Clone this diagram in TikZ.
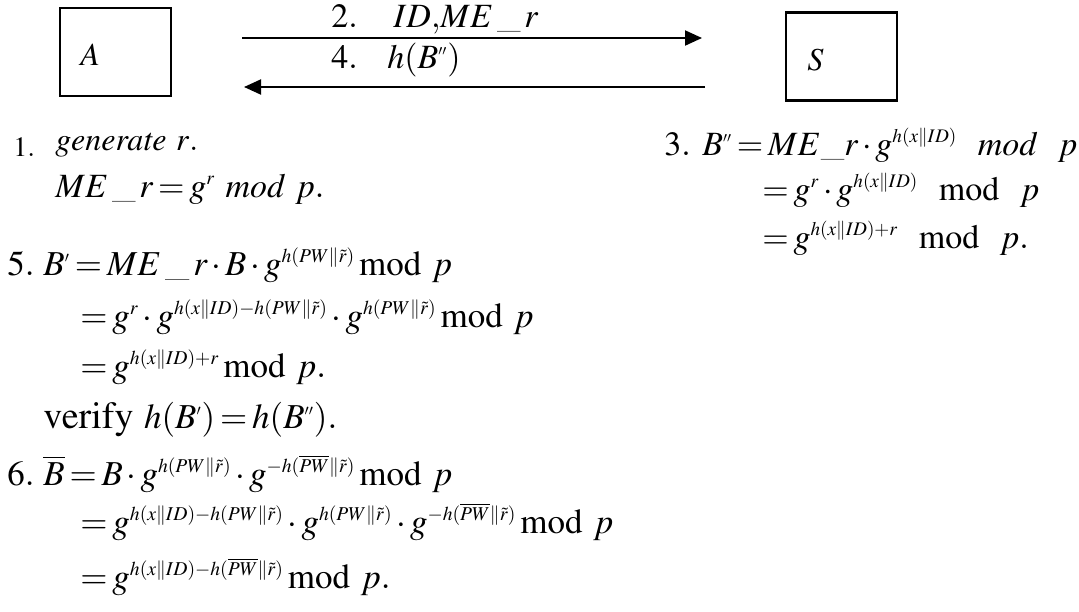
\documentclass[tikz,border=0pt]{standalone}
\usepackage{amsmath}
\usepackage{mathptmx}
\usetikzlibrary{arrows.meta, positioning}
\DeclareMathSizes{19}{19}{10.6}{8}
\DeclareMathSizes{17.5}{17.5}{9.8}{7.5}
\DeclareMathSizes{17}{17}{9.6}{7.2}
\DeclareMathSizes{16}{16}{9.2}{7}
\DeclareMathSizes{14}{14}{8.5}{6}
\thickmuskip=2.5mu
\medmuskip=2mu
\newcommand{\sgl}{^{\scriptscriptstyle\prime}}
\newcommand{\dbl}{^{\scriptscriptstyle\prime\prime}}

\begin{document}
\begin{tikzpicture}[x=0.5pt, y=-0.5pt, every node/.style={inner sep=0pt}]
  \useasboundingbox (0,0) rectangle (1079,611);
  \tikzset{party/.style={draw, line width=1.1pt, minimum width=55.5pt, minimum height=44pt},
    msg/.style={line width=1pt, -{Triangle[length=8.5pt, width=7.5pt]}},
    eq/.style={anchor=base west, font=\fontsize{17.5}{21}\selectfont},
    lbl/.style={anchor=base west, font=\fontsize{17}{20}\selectfont},
    eqs/.style={anchor=base west, font=\fontsize{16}{19}\selectfont}}
  % parties
  \node[party] (A) at (115.5,52) {};
  \node[eqs] (Alab) at (80,65) {$A$};
  \node[party] (S) at (841.5,56.5) {};
  \node[eqs] (Slab) at (807,70) {$S$};
  % messages
  \coordinate (m2s) at (242,38);
  \coordinate (m2e) at (702,38);
  \coordinate (m4s) at (705,87);
  \coordinate (m4e) at (244,87);
  \draw[msg] (m2s) -- (m2e);
  \draw[msg] (m4s) -- (m4e);
  \node[lbl] (m2n) at (331,27) {$\mathrm{2.}$};
  \node[lbl] (m2) at (393,27) {$ID{,}ME\,\_\,r$};
  \node[lbl] (m4n) at (331,68) {$\mathrm{4.}$};
  \node[lbl] (m4) at (387,68) {$h(B\dbl)$};
  % step 1
  \node[anchor=base west, font=\fontsize{14}{17}\selectfont] (s1n) at (13,156) {$\mathrm{1.}$};
  \node[eqs] (s1a) at (55,150) {$\mathit{generate}\ \mathit{r.}$};
  \node[lbl] (s1b) at (55,197) {$ME\,\_\,r = g^{r}\ \mathit{mod}\ p.$};
  % step 3
  \node[lbl] (s3n) at (664,155) {$\mathrm{3.}$};
  \node[lbl] (s3a) at (702,155) {$B\dbl = ME\_r\cdot g^{h(x\|ID)}\ \ \mathit{mod}\ \ p$};
  \node[lbl] (s3b) at (762,200) {$= g^{r}\cdot g^{h(x\|ID)}\ \ \mathrm{mod}\ \ p$};
  \node[lbl] (s3c) at (762,248) {$= g^{h(x\|ID)+r}\ \ \mathrm{mod}\ \ p.$};
  % step 5
  \node[eq] (s5n) at (7,275) {$\mathrm{5.}$};
  \node[eq] (s5a) at (43,275) {$B\sgl = ME\,\_\,r\cdot B\cdot g^{h(PW\|\tilde{r})}\,\mathrm{mod}\ p$};
  \node[eq] (s5b) at (80,327) {$= g^{r}\cdot g^{h(x\|ID)-h(PW\|\tilde{r})}\cdot g^{h(PW\|\tilde{r})}\,\mathrm{mod}\ p$};
  \node[eq] (s5c) at (80,377) {$= g^{h(x\|ID)+r}\,\mathrm{mod}\ p.$};
  \node[eq] (s5d) at (43,428) {{\fontsize{19}{22}\selectfont$\mathrm{verify}$}\ $h(B\sgl) = h(B\dbl).$};
  % step 6
  \node[eq] (s6n) at (7,485) {$\mathrm{6.}$};
  \node[eq] (s6a) at (43,485) {$\overline{B} = B\cdot g^{h(PW\|\tilde{r})}\cdot g^{-h(\overline{PW}\|\tilde{r})}\,\mathrm{mod}\ p$};
  \node[eq] (s6b) at (80,533) {$= g^{h(x\|ID)-h(PW\|\tilde{r})}\cdot g^{h(PW\|\tilde{r})}\cdot g^{-h(\overline{PW}\|\tilde{r})}\,\mathrm{mod}\ p$};
  \node[eq] (s6c) at (80,588) {$= g^{h(x\|ID)-h(\overline{PW}\|\tilde{r})}\,\mathrm{mod}\ p.$};
\end{tikzpicture}
\end{document}
